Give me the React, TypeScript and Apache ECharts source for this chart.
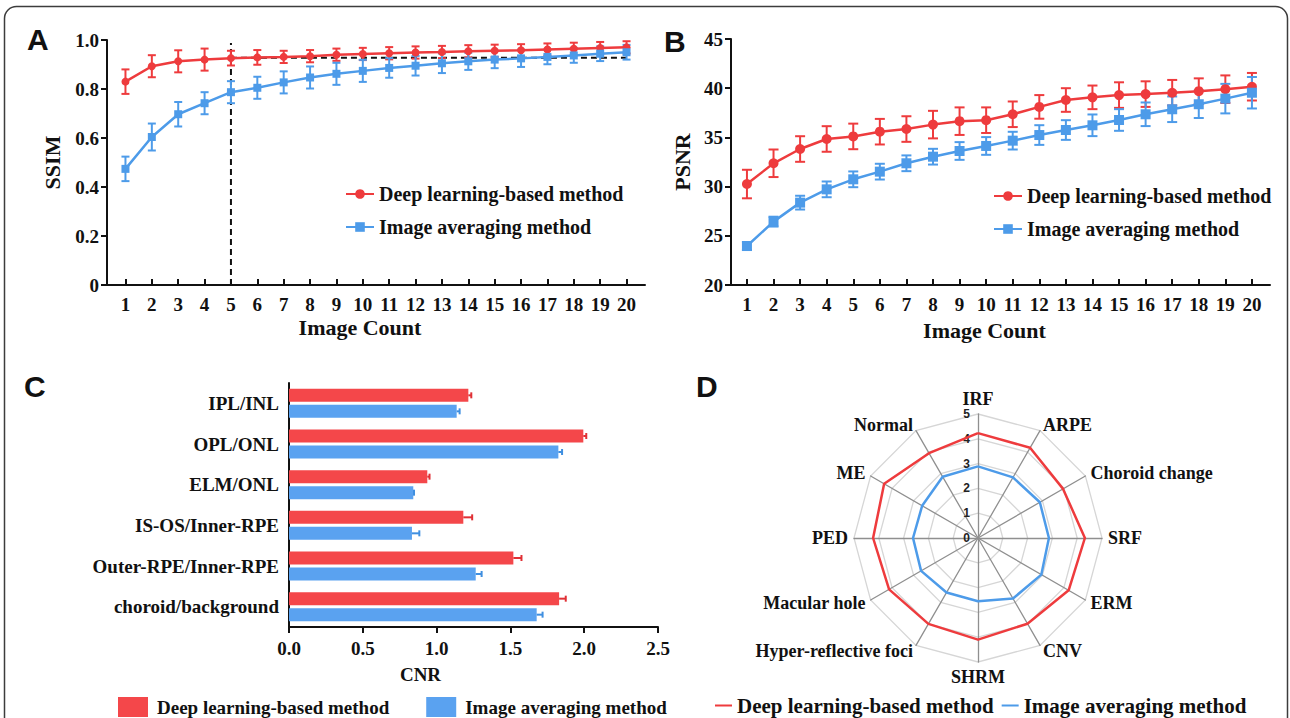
import React, { useEffect, useRef } from "react";
import * as echarts from "echarts";

// ---------- data ----------
const imageCounts = [1, 2, 3, 4, 5, 6, 7, 8, 9, 10, 11, 12, 13, 14, 15, 16, 17, 18, 19, 20];

const ssimDeep = [0.83, 0.893, 0.913, 0.92, 0.926, 0.929, 0.931, 0.934, 0.94, 0.943, 0.946, 0.949, 0.951, 0.954, 0.956, 0.958, 0.961, 0.964, 0.967, 0.97];
const ssimDeepErr = [0.05, 0.045, 0.045, 0.045, 0.03, 0.03, 0.025, 0.025, 0.025, 0.025, 0.025, 0.025, 0.025, 0.025, 0.025, 0.025, 0.025, 0.025, 0.025, 0.025];
const ssimAvg = [0.474, 0.604, 0.697, 0.742, 0.787, 0.805, 0.827, 0.847, 0.862, 0.874, 0.886, 0.895, 0.905, 0.913, 0.92, 0.925, 0.931, 0.937, 0.944, 0.95];
const ssimAvgErr = [0.05, 0.055, 0.05, 0.045, 0.045, 0.045, 0.045, 0.045, 0.045, 0.045, 0.04, 0.04, 0.04, 0.035, 0.035, 0.035, 0.03, 0.03, 0.03, 0.03];
const ssimGuideCount = 5;
const ssimGuideTop = 0.988;
const ssimGuideLevel = 0.928;

const psnrDeep = [30.26, 32.37, 33.82, 34.84, 35.1, 35.58, 35.85, 36.3, 36.65, 36.75, 37.35, 38.1, 38.8, 39.07, 39.3, 39.4, 39.54, 39.7, 39.9, 40.15];
const psnrDeepErr = [1.45, 1.4, 1.3, 1.3, 1.3, 1.3, 1.3, 1.4, 1.4, 1.3, 1.3, 1.2, 1.2, 1.2, 1.3, 1.3, 1.3, 1.3, 1.4, 1.4];
const psnrAvg = [23.96, 26.44, 28.37, 29.72, 30.74, 31.52, 32.37, 33.04, 33.62, 34.13, 34.67, 35.24, 35.75, 36.23, 36.77, 37.35, 37.86, 38.37, 38.94, 39.54];
const psnrAvgErr = [0.4, 0.5, 0.7, 0.8, 0.8, 0.8, 0.8, 0.8, 0.9, 0.9, 0.9, 1.0, 1.0, 1.1, 1.1, 1.2, 1.3, 1.4, 1.5, 1.6];

const cnrLayers = ["IPL/INL", "OPL/ONL", "ELM/ONL", "IS-OS/Inner-RPE", "Outer-RPE/Inner-RPE", "choroid/background"];
const cnrDeep = [1.215, 1.994, 0.937, 1.181, 1.52, 1.83];
const cnrDeepErr = [0.02, 0.02, 0.015, 0.06, 0.055, 0.045];
const cnrAvg = [1.136, 1.825, 0.842, 0.833, 1.265, 1.678];
const cnrAvgErr = [0.02, 0.025, 0.005, 0.05, 0.04, 0.04];

// clockwise from the top
const radarLesions = ["IRF", "ARPE", "Choroid change", "SRF", "ERM", "CNV", "SHRM", "Hyper-reflective foci", "Macular hole", "PED", "ME", "Normal"];
const radarDeep = [4.23, 4.2, 3.96, 4.31, 4.22, 3.99, 4.1, 4.0, 4.14, 4.23, 4.37, 3.95];
const radarAvg = [2.89, 2.82, 2.88, 2.86, 2.95, 2.82, 2.55, 2.54, 2.65, 2.62, 2.6, 2.85];

const DEEP = "Deep learning-based method";
const AVG = "Image averaging method";

// ---------- styles ----------
const RED = "#ee3b3d";
const BLUE = "#4d9be9";
const BAR_RED = "#f4474a";
const BAR_BLUE = "#5aa2f0";
const SERIF = "Liberation Serif";
const INK = "#111";

const tickFont = { fontFamily: SERIF, fontWeight: "bold", fontSize: 19, color: INK };
const titleFont = { fontFamily: SERIF, fontWeight: "bold", fontSize: 22, color: INK };
const axisLine = { show: true, lineStyle: { color: INK, width: 2 } };

function vErr(color: string, cap: number) {
  return (params: any, api: any) => {
    const x = api.value(0), y = api.value(1), e = api.value(2);
    const hi = api.coord([x, y + e]);
    const lo = api.coord([x, y - e]);
    const st = { stroke: color, lineWidth: 2 };
    return {
      type: "group",
      children: [
        { type: "line", shape: { x1: hi[0], y1: hi[1], x2: lo[0], y2: lo[1] }, style: st },
        { type: "line", shape: { x1: hi[0] - cap, y1: hi[1], x2: hi[0] + cap, y2: hi[1] }, style: st },
        { type: "line", shape: { x1: lo[0] - cap, y1: lo[1], x2: lo[0] + cap, y2: lo[1] }, style: st },
      ],
    };
  };
}

function hErr(color: string, offset: number) {
  return (params: any, api: any) => {
    const v = api.value(0), c = api.value(1), e = api.value(2);
    const a = api.coord([v, c]);
    const b = api.coord([v + e, c]);
    const y = a[1] + offset;
    const st = { stroke: color, lineWidth: 2 };
    return {
      type: "group",
      children: [
        { type: "line", shape: { x1: a[0], y1: y, x2: b[0], y2: y }, style: st },
        { type: "line", shape: { x1: b[0], y1: y - 3, x2: b[0], y2: y + 3 }, style: st },
      ],
    };
  };
}

function lineAxisX(gridIndex: number, min: number, max: number, nameGap: number) {
  return {
    type: "value",
    gridIndex,
    min,
    max,
    name: "Image Count",
    nameLocation: "middle",
    nameGap,
    nameTextStyle: { ...titleFont, padding: [0, 32, 0, 0] },
    axisLine,
    axisTick: { show: true, inside: true, length: 6, customValues: imageCounts, lineStyle: { color: INK, width: 2 } },
    axisLabel: { ...tickFont, margin: 10, customValues: imageCounts },
    splitLine: { show: false },
  };
}

function buildOption(): any {
  const pairs = (vals: number[], errs?: number[]) =>
    vals.map((v, i) => (errs ? [imageCounts[i], v, errs[i]] : [imageCounts[i], v]));

  const radarOrder = [0, ...radarLesions.slice(1).map((_, i) => radarLesions.length - 1 - i)];

  return {
    animation: false,
    backgroundColor: "#fff",
    grid: [
      { left: 107, top: 40, width: 538, height: 245 },
      { left: 731, top: 39, width: 539, height: 246 },
      { left: 289, top: 383, width: 369, height: 244 },
    ],
    xAxis: [
      lineAxisX(0, 0.3, 20.7, 31),
      lineAxisX(1, 0.4, 20.68, 34),
      {
        type: "value",
        gridIndex: 2,
        min: 0,
        max: 2.5,
        interval: 0.5,
        name: "CNR",
        nameLocation: "middle",
        nameGap: 38,
        nameTextStyle: { fontFamily: SERIF, fontWeight: "bold", fontSize: 19, color: INK, padding: [0, 106, 0, 0] },
        axisLine,
        axisTick: { show: true, length: 6, lineStyle: { color: INK, width: 2 } },
        axisLabel: { ...tickFont, margin: 12, formatter: (v: number) => v.toFixed(1) },
        splitLine: { show: false },
      },
    ],
    yAxis: [
      {
        type: "value",
        gridIndex: 0,
        min: 0,
        max: 1,
        interval: 0.2,
        name: "SSIM",
        nameLocation: "middle",
        nameGap: 44,
        nameTextStyle: titleFont,
        axisLine,
        axisTick: { show: true, length: 6, lineStyle: { color: INK, width: 2 } },
        axisLabel: { ...tickFont, margin: 8, formatter: (v: number) => (v === 0 ? "0" : v.toFixed(1)) },
        splitLine: { show: false },
      },
      {
        type: "value",
        gridIndex: 1,
        min: 20,
        max: 45,
        interval: 5,
        name: "PSNR",
        nameLocation: "middle",
        nameGap: 38,
        nameTextStyle: titleFont,
        axisLine,
        axisTick: { show: true, length: 6, lineStyle: { color: INK, width: 2 } },
        axisLabel: { ...tickFont, margin: 8 },
        splitLine: { show: false },
      },
      {
        type: "category",
        gridIndex: 2,
        data: cnrLayers,
        inverse: true,
        axisLine,
        axisTick: { show: false },
        axisLabel: { ...tickFont, margin: 10 },
      },
    ],
    radar: {
      center: [978, 538],
      radius: 124,
      startAngle: 90,
      splitNumber: 5,
      shape: "polygon",
      indicator: radarOrder.map((i) => ({ name: radarLesions[i], min: 0, max: 5 })),
      axisName: { color: INK, fontFamily: SERIF, fontWeight: "bold", fontSize: 18 },
      nameGap: 6,
      splitLine: { lineStyle: { color: "#d6d6d6", width: 1.3 } },
      splitArea: { show: false },
      axisLine: { lineStyle: { color: "#8f8f8f", width: 1.3 } },
      axisTick: { show: false },
      axisLabel: { show: false },
    },
    polar: { center: [978, 538], radius: 124 },
    angleAxis: { type: "value", min: 0, max: 360, startAngle: 90, show: false },
    radiusAxis: {
      type: "value",
      min: 0,
      max: 5,
      interval: 1,
      axisLine: { show: false },
      axisTick: { show: false },
      splitLine: { show: false },
      axisLabel: { fontFamily: "Liberation Sans", fontWeight: "bold", fontSize: 12, color: "#222", margin: 8 },
    },
    legend: [
      {
        left: 340, top: 179, orient: "vertical", itemGap: 13, itemWidth: 28, itemHeight: 12, selectedMode: false,
        data: [{ name: DEEP }, { name: AVG }],
        textStyle: { fontFamily: SERIF, fontWeight: "bold", fontSize: 20, color: INK },
      },
      {
        left: 988, top: 181, orient: "vertical", itemGap: 13, itemWidth: 28, itemHeight: 12, selectedMode: false,
        data: [{ name: DEEP }, { name: AVG }],
        textStyle: { fontFamily: SERIF, fontWeight: "bold", fontSize: 20, color: INK },
      },
      {
        left: 113, top: 692, orient: "horizontal", itemGap: 37, itemWidth: 30, itemHeight: 20, selectedMode: false,
        data: [
          { name: DEEP, icon: "rect", itemStyle: { color: BAR_RED } },
          { name: AVG, icon: "rect", itemStyle: { color: BAR_BLUE } },
        ],
        textStyle: { fontFamily: SERIF, fontWeight: "bold", fontSize: 19, color: INK, padding: [0, 0, 0, 4] },
      },
      {
        left: 710, top: 690, orient: "horizontal", itemGap: 8, itemWidth: 17, itemHeight: 2, selectedMode: false,
        data: [
          { name: DEEP, icon: "rect", itemStyle: { color: RED } },
          { name: AVG, icon: "rect", itemStyle: { color: BLUE } },
        ],
        textStyle: { fontFamily: SERIF, fontWeight: "bold", fontSize: 21, color: INK },
      },
    ],
    graphic: [
      { type: "rect", shape: { x: 4.5, y: 6.5, width: 1283, height: 760, r: 12 }, style: { fill: "none", stroke: "#3c3c3c", lineWidth: 1.5 }, silent: true },
      { type: "text", left: 27, top: 24, style: { text: "A", font: 'bold 30px "Liberation Sans"', fill: INK } },
      { type: "text", left: 664, top: 26, style: { text: "B", font: 'bold 30px "Liberation Sans"', fill: INK } },
      { type: "text", left: 24, top: 371, style: { text: "C", font: 'bold 30px "Liberation Sans"', fill: INK } },
      { type: "text", left: 696, top: 371, style: { text: "D", font: 'bold 30px "Liberation Sans"', fill: INK } },
    ],
    series: [
      // ---- A ----
      {
        name: "ssim-guide", type: "line", xAxisIndex: 0, yAxisIndex: 0, symbol: "none", z: 1,
        lineStyle: { color: INK, width: 2, type: [6, 4] },
        data: [[ssimGuideCount, 0], [ssimGuideCount, ssimGuideTop]],
      },
      {
        name: "ssim-guide-h", type: "line", xAxisIndex: 0, yAxisIndex: 0, symbol: "none", z: 1,
        lineStyle: { color: INK, width: 2, type: [6, 4] },
        data: [[ssimGuideCount, ssimGuideLevel], [imageCounts[imageCounts.length - 1], ssimGuideLevel]],
      },
      { name: "ssim-deep-err", type: "custom", xAxisIndex: 0, yAxisIndex: 0, renderItem: vErr(RED, 4), data: pairs(ssimDeep, ssimDeepErr), encode: { x: 0, y: 1 }, z: 2 },
      { name: "ssim-avg-err", type: "custom", xAxisIndex: 0, yAxisIndex: 0, renderItem: vErr(BLUE, 4), data: pairs(ssimAvg, ssimAvgErr), encode: { x: 0, y: 1 }, z: 2 },
      {
        name: DEEP, type: "line", xAxisIndex: 0, yAxisIndex: 0, symbol: "circle", symbolSize: 8, z: 3,
        itemStyle: { color: RED }, lineStyle: { color: RED, width: 2.5 }, data: pairs(ssimDeep),
      },
      {
        name: AVG, type: "line", xAxisIndex: 0, yAxisIndex: 0, symbol: "rect", symbolSize: 8, z: 3,
        itemStyle: { color: BLUE }, lineStyle: { color: BLUE, width: 2.5 }, data: pairs(ssimAvg),
      },
      // ---- B ----
      { name: "psnr-deep-err", type: "custom", xAxisIndex: 1, yAxisIndex: 1, renderItem: vErr(RED, 5), data: pairs(psnrDeep, psnrDeepErr), encode: { x: 0, y: 1 }, z: 2 },
      { name: "psnr-avg-err", type: "custom", xAxisIndex: 1, yAxisIndex: 1, renderItem: vErr(BLUE, 5), data: pairs(psnrAvg, psnrAvgErr), encode: { x: 0, y: 1 }, z: 2 },
      {
        name: DEEP, type: "line", xAxisIndex: 1, yAxisIndex: 1, symbol: "circle", symbolSize: 10, z: 3,
        itemStyle: { color: RED }, lineStyle: { color: RED, width: 2.5 }, data: pairs(psnrDeep),
      },
      {
        name: AVG, type: "line", xAxisIndex: 1, yAxisIndex: 1, symbol: "rect", symbolSize: 10, z: 3,
        itemStyle: { color: BLUE }, lineStyle: { color: BLUE, width: 2.5 }, data: pairs(psnrAvg),
      },
      // ---- C ----
      {
        name: DEEP, type: "bar", xAxisIndex: 2, yAxisIndex: 2, barWidth: 13, barGap: "23%",
        itemStyle: { color: BAR_RED }, data: cnrDeep,
      },
      {
        name: AVG, type: "bar", xAxisIndex: 2, yAxisIndex: 2, barWidth: 13, barGap: "23%",
        itemStyle: { color: BAR_BLUE }, data: cnrAvg,
      },
      {
        name: "cnr-deep-err", type: "custom", xAxisIndex: 2, yAxisIndex: 2, renderItem: hErr("#e03035", -8),
        data: cnrDeep.map((v, i) => [v, i, cnrDeepErr[i]]), encode: { x: 0, y: 1 }, z: 3,
      },
      {
        name: "cnr-avg-err", type: "custom", xAxisIndex: 2, yAxisIndex: 2, renderItem: hErr("#3f8fe0", 8),
        data: cnrAvg.map((v, i) => [v, i, cnrAvgErr[i]]), encode: { x: 0, y: 1 }, z: 3,
      },
      // ---- D ----
      {
        name: "radar", type: "radar", symbol: "none",
        data: [
          { name: DEEP, value: radarOrder.map((i) => radarDeep[i]), lineStyle: { color: RED, width: 2.5 }, itemStyle: { color: RED } },
          { name: AVG, value: radarOrder.map((i) => radarAvg[i]), lineStyle: { color: BLUE, width: 2.5 }, itemStyle: { color: BLUE } },
        ],
      },
    ],
  };
}

export default function App() {
  const ref = useRef<HTMLDivElement>(null);
  useEffect(() => {
    document.body.style.margin = "0";
    if (!ref.current) return;
    const chart = echarts.init(ref.current, null, { renderer: "svg" });
    chart.setOption(buildOption());
    return () => chart.dispose();
  }, []);
  return <div ref={ref} style={{ width: 1290, height: 718 }} />;
}
